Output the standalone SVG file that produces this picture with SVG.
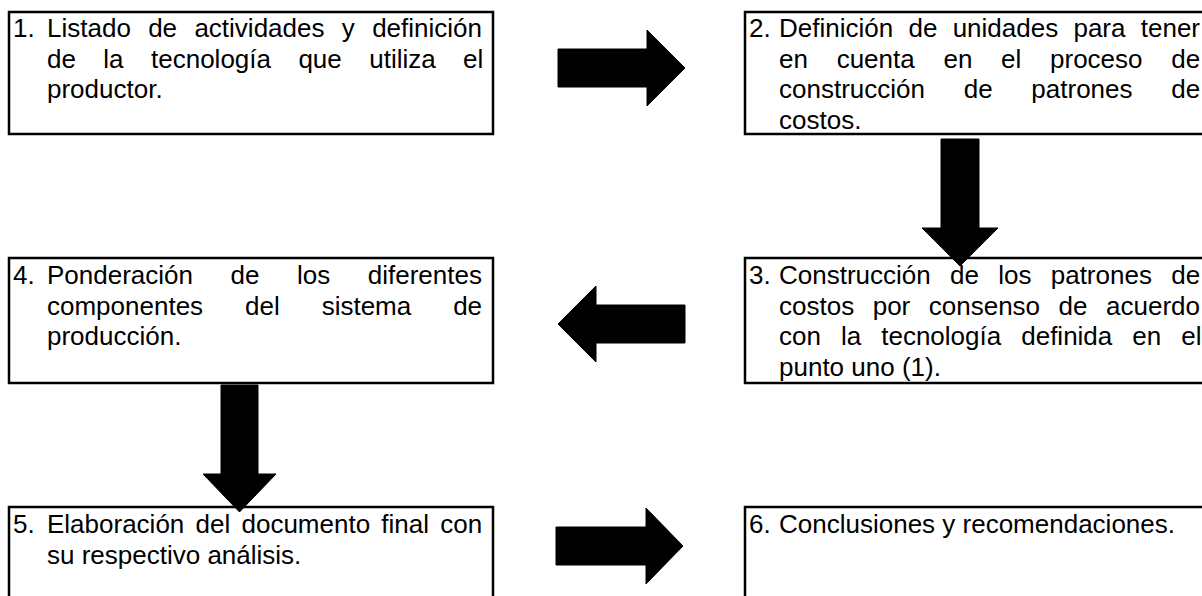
<svg xmlns="http://www.w3.org/2000/svg" width="1202" height="596" viewBox="0 0 1202 596">
<style>
.box{fill:#fff;stroke:#000;stroke-width:2.5}
.t{font-family:"Liberation Sans",Arial,sans-serif;font-size:26px;fill:#000}
.arr{fill:#000;stroke:#000;stroke-width:1}
</style>
<rect width="1202" height="596" fill="#fff"/>
<g id="node1">
<rect class="box" x="9" y="12" width="484" height="122"/>
<text class="t" x="13" y="37">1.</text>
<text class="t" x="47" y="37" word-spacing="10.1">Listado de actividades y definición</text>
<text class="t" x="47" y="67.5" word-spacing="20.2">de la tecnología que utiliza el</text>
<text class="t" x="47" y="98">productor.</text>
</g>
<g id="node2">
<rect class="box" x="745" y="12" width="470" height="122"/>
<text class="t" x="749" y="37">2.</text>
<text class="t" x="779" y="37" word-spacing="8.05">Definición de unidades para tener</text>
<text class="t" x="779" y="67.5" word-spacing="21.5">en cuenta en el proceso de</text>
<text class="t" x="779" y="98" word-spacing="31.5">construcción de patrones de</text>
<text class="t" x="779" y="128.5">costos.</text>
</g>
<g id="node3">
<rect class="box" x="745" y="258" width="470" height="125"/>
<text class="t" x="749" y="284">3.</text>
<text class="t" x="779" y="284" word-spacing="12.05">Construcción de los patrones de</text>
<text class="t" x="779" y="314.5" word-spacing="11.3">costos por consenso de acuerdo</text>
<text class="t" x="779" y="345" word-spacing="12.8">con la tecnología definida en el</text>
<text class="t" x="779" y="375.5">punto uno (1).</text>
</g>
<g id="node4">
<rect class="box" x="9" y="258" width="484" height="125"/>
<text class="t" x="13" y="284">4.</text>
<text class="t" x="47" y="284" word-spacing="30.3">Ponderación de los diferentes</text>
<text class="t" x="47" y="314.5" word-spacing="34.7">componentes del sistema de</text>
<text class="t" x="47" y="345">producción.</text>
</g>
<g id="node5">
<rect class="box" x="9" y="507" width="484" height="120"/>
<text class="t" x="13" y="533">5.</text>
<text class="t" x="47" y="533" word-spacing="4">Elaboración del documento final con</text>
<text class="t" x="47" y="563.5">su respectivo análisis.</text>
</g>
<g id="node6">
<rect class="box" x="745" y="507" width="470" height="120"/>
<text class="t" x="749" y="533">6.</text>
<text class="t" x="779" y="533">Conclusiones y recomendaciones.</text>
</g>
<g id="connectors">
<polygon class="arr" points="558,49 647,49 647,30 685,68 647,106 647,87 558,87"/>
<polygon class="arr" points="941,139 979,139 979,228 998,228 960,266 922,228 941,228"/>
<polygon class="arr" points="685,305 596,305 596,286 558,324 596,362 596,343 685,343"/>
<polygon class="arr" points="221,385 258,385 258,474 276,474 239.5,512 203,474 221,474"/>
<polygon class="arr" points="556,527 646,527 646,508 683,546 646,584 646,565 556,565"/>
</g>
</svg>
